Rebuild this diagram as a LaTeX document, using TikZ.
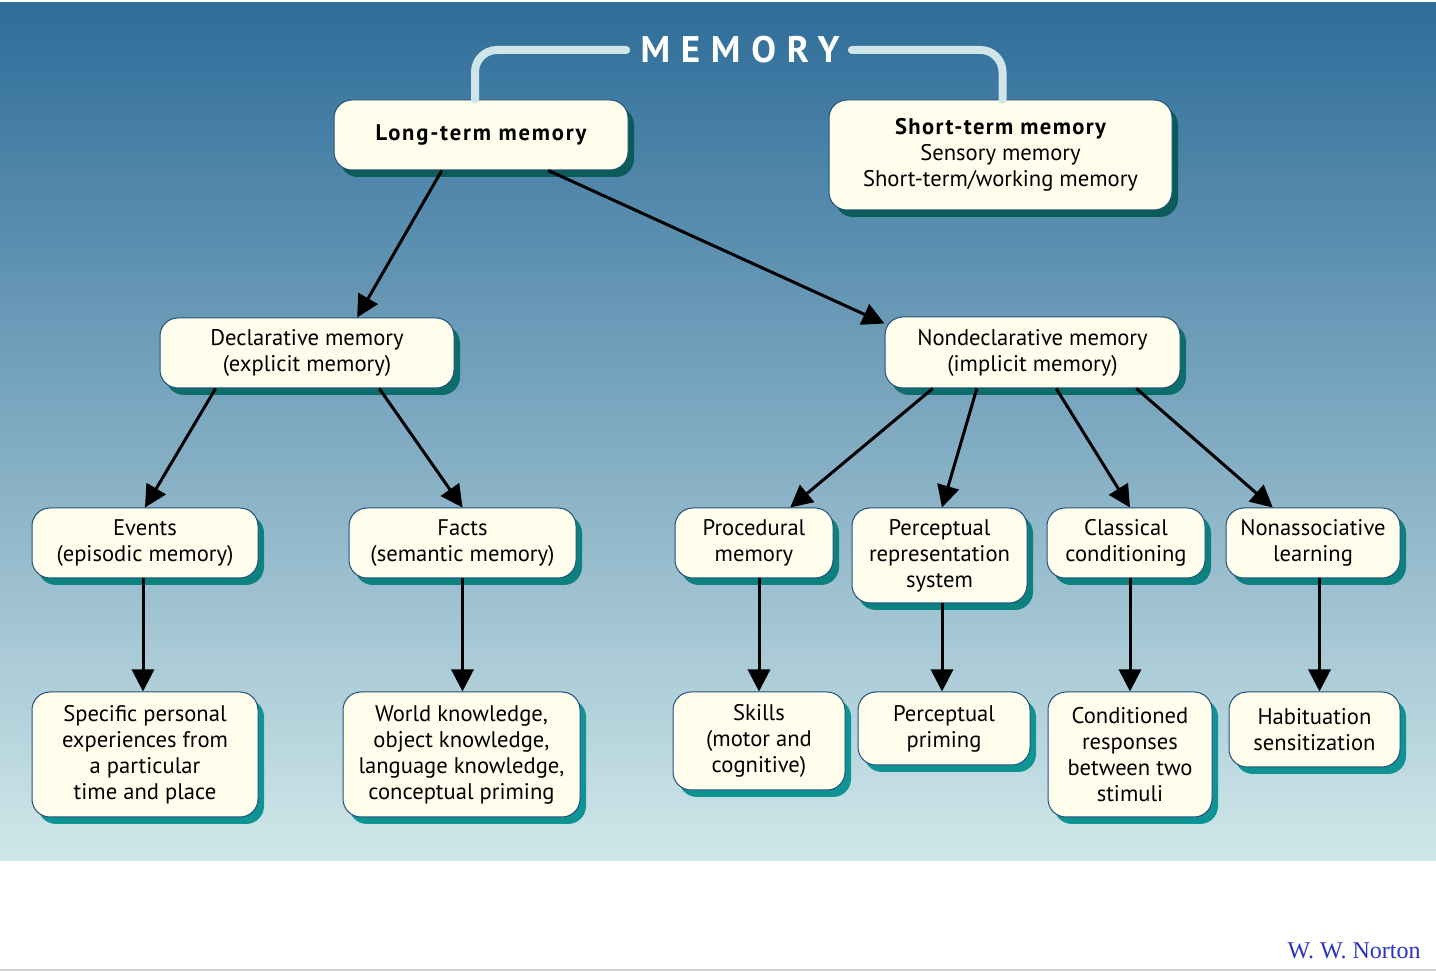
\documentclass[tikz,border=0pt]{standalone}
\usepackage{fontspec}
\setmainfont{PT Sans}
\newfontfamily\nortonfont{Liberation Serif}
\usetikzlibrary{shadows,arrows.meta,calc}
\definecolor{bgtop}{HTML}{2E6D99}
\definecolor{bgbot}{HTML}{D0E7E9}
\definecolor{boxfill}{HTML}{FFFDEC}
\definecolor{boxline}{HTML}{24507A}
\definecolor{shA}{HTML}{0A5B59}
\definecolor{shB}{HTML}{0C6D6B}
\definecolor{shC}{HTML}{0D8180}
\definecolor{shD}{HTML}{0E9494}
\definecolor{bracketc}{HTML}{CFE5E7}
\definecolor{nortonblue}{HTML}{2A33C4}
\begin{document}
\begin{tikzpicture}[x=0.5pt,y=-0.5pt,
  box/.style={draw=boxline, line width=0.5pt, fill=boxfill, rounded corners=9pt,
    align=center, inner sep=0pt, text=black,
    font=\fontsize{11.3}{13}\selectfont,
    drop shadow={shadow xshift=3pt, shadow yshift=-3.5pt, opacity=1, fill=#1}},
  box/.default=shC,
  arr/.style={-{Triangle[length=11pt,width=11pt]}, line width=1.5pt, black},
  bracket/.style={draw=bracketc, line width=4pt, rounded corners=11pt, line cap=round}]
\useasboundingbox (0,0) rectangle (1436,972);
\shade[top color=bgtop, bottom color=bgbot] (0,3) rectangle (1436,860);
\draw[black!18, line width=1pt] (0,970) -- (1436,970);

% title
\node[text=white, inner sep=0pt, font=\fontsize{18.5}{18.5}\selectfont\bfseries\addfontfeature{LetterSpace=29}] (title) at (740,50) {MEMORY};
\coordinate (tl) at ([xshift=-7pt]title.west);
\coordinate (tr) at ([xshift=6pt]title.east);

% boxes
\node[box=shA, minimum width=147pt, minimum height=35pt] (ltm) at (481,135)
  {\bfseries\addfontfeature{LetterSpace=8}Long-term memory};
\node[box=shA, minimum width=171.5pt, minimum height=55pt] (stm) at (1000.5,155)
  {{\bfseries\addfontfeature{LetterSpace=6}Short-term memory}\\Sensory memory\\Short-term/working memory};
\node[box=shB, minimum width=147pt, minimum height=35pt] (decl) at (307,353)
  {Declarative memory\\(explicit memory)};
\node[box=shB, minimum width=147.5pt, minimum height=35.5pt] (nondecl) at (1032.5,352.5)
  {Nondeclarative memory\\(implicit memory)};

\node[box=shC, minimum width=113pt, minimum height=35pt] (events) at (145,543)
  {Events\\(episodic memory)};
\node[box=shC, minimum width=113.5pt, minimum height=35pt] (facts) at (462.5,543)
  {Facts\\(semantic memory)};
\node[box=shC, minimum width=79pt, minimum height=35pt] (proc) at (754,543)
  {Procedural\\memory};
\node[box=shC, minimum width=87.5pt, minimum height=47.5pt] (percep) at (939.5,555.5)
  {Perceptual\\representation\\system};
\node[box=shC, minimum width=79pt, minimum height=35pt] (classical) at (1126,543)
  {Classical\\conditioning};
\node[box=shC, minimum width=87pt, minimum height=35pt] (nonassoc) at (1313,543)
  {Nonassociative\\learning};

\node[box=shD, minimum width=113pt, minimum height=62.5pt] (specific) at (145,754.5)
  {Specific personal\\experiences from\\a particular\\time and place};
\node[box=shD, minimum width=118.5pt, minimum height=62.5pt] (world) at (461.5,754.5)
  {World knowledge,\\object knowledge,\\language knowledge,\\conceptual priming};
\node[box=shD, minimum width=86pt, minimum height=49pt] (skills) at (759,741)
  {Skills\\(motor and\\cognitive)};
\node[box=shD, minimum width=86pt, minimum height=36.5pt] (priming) at (944,728.5)
  {Perceptual\\priming};
\node[box=shD, minimum width=82pt, minimum height=62.5pt] (cond) at (1130,754.5)
  {Conditioned\\responses\\between two\\stimuli};
\node[box=shD, minimum width=85.5pt, minimum height=37.5pt] (habit) at (1314.5,729.5)
  {Habituation\\sensitization};

% connectors
\draw[arr] ($(ltm.south west)!0.367!(ltm.south east)$) -- ($(decl.north west)!0.67!(decl.north east)$);
\draw[arr] ($(ltm.south west)!0.728!(ltm.south east)$) -- ($(nondecl.north west)+(0,7)$);
\draw[arr] ($(decl.south west)!0.19!(decl.south east)$) -- (events.north);
\draw[arr] ($(decl.south west)!0.745!(decl.south east)$) -- (facts.north);
\draw[arr] ($(nondecl.south west)!0.163!(nondecl.south east)$) -- ($(proc.north west)!0.728!(proc.north east)$);
\draw[arr] ($(nondecl.south west)!0.312!(nondecl.south east)$) -- ($(percep.north west)!0.514!(percep.north east)$);
\draw[arr] ($(nondecl.south west)!0.58!(nondecl.south east)$) -- ($(classical.north west)!0.525!(classical.north east)$);
\draw[arr] ($(nondecl.south west)!0.851!(nondecl.south east)$) -- ($(nonassoc.north west)!0.27!(nonassoc.north east)$);

\draw[arr] ([xshift=-1pt]events.south) -- ([xshift=-1pt]specific.north);
\draw[arr] (facts.south) -- (world.north -| facts.south);
\draw[arr] (skills.north |- proc.south) -- (skills.north);
\draw[arr] ([xshift=-1pt]priming.north |- percep.south) -- ([xshift=-1pt]priming.north);
\draw[arr] (cond.north |- classical.south) -- (cond.north);
\draw[arr] ([xshift=2.5pt]habit.north |- nonassoc.south) -- ([xshift=2.5pt]habit.north);

% bracket
\draw[bracket] (tl) -| ([xshift=-3pt]ltm.north);
\draw[bracket] (tr) -| ([xshift=1pt]stm.north);

\node[anchor=base east, inner sep=0pt, text=nortonblue, font=\nortonfont\fontsize{12}{12}\selectfont] (norton) at (1421,958) {W. W. Norton};
\end{tikzpicture}
\end{document}
